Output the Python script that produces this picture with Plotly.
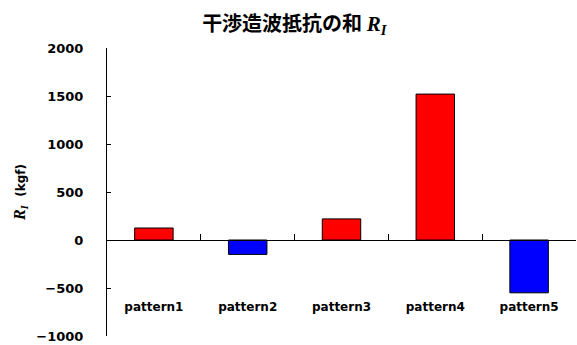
import plotly.graph_objects as go

categories = ["pattern1", "pattern2", "pattern3", "pattern4", "pattern5"]
values = [125, -150, 220, 1520, -550]
bar_colors = ["#FF0000" if v >= 0 else "#0000FF" for v in values]
y_ticks = [-1000, -500, 0, 500, 1000, 1500, 2000]

fig = go.Figure(
    go.Bar(
        x=categories,
        y=values,
        width=0.41,
        marker=dict(color=bar_colors, line=dict(color="black", width=1)),
    )
)

title_r = "font-family:'Liberation Serif', serif;font-size:21px"
axis_r = "font-family:'Liberation Serif', serif;font-size:16px"
fig.update_layout(
    width=577,
    height=345,
    margin=dict(l=107, r=1, t=48, b=9),
    paper_bgcolor="white",
    plot_bgcolor="white",
    showlegend=False,
    font=dict(family="DejaVu Sans", color="black"),
    title=dict(
        text=f"<b>干渉造波抵抗の和 <span style=\"{title_r}\"><i>R<sub>I</sub></i></span></b>",
        font=dict(family="Noto Sans CJK JP", size=20, color="black"),
        x=0.51,
        xanchor="center",
        y=1 - 24 / 345,
        yanchor="middle",
    ),
    xaxis=dict(
        anchor="free",
        position=1 / 3,
        showline=True,
        linecolor="black",
        linewidth=1,
        ticks="inside",
        tickson="boundaries",
        ticklen=6,
        tickcolor="black",
        showgrid=False,
        ticklabelstandoff=56,
        tickfont=dict(family="DejaVu Sans", size=12, color="black", weight="bold"),
    ),
    yaxis=dict(
        range=[-1000, 2000],
        tickvals=y_ticks,
        showline=True,
        linecolor="black",
        linewidth=1,
        ticks="inside",
        ticklen=4,
        tickcolor="black",
        showgrid=False,
        zeroline=False,
        ticklabelstandoff=20,
        tickfont=dict(family="DejaVu Sans", size=13, color="black", weight="bold"),
        title=dict(
            text=f"<b><span style=\"{axis_r}\"><i>R<sub>I</sub></i></span>  (kgf)</b>",
            font=dict(family="DejaVu Sans", size=12, color="black"),
            standoff=8,
        ),
    ),
)

fig.write_html("out.html")
